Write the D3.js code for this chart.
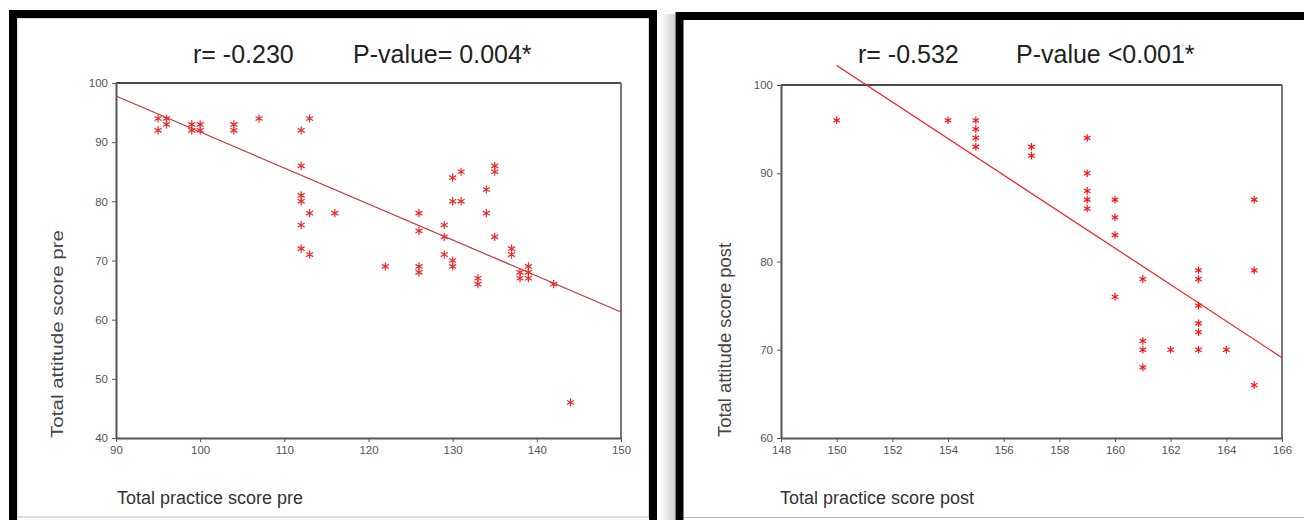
<!DOCTYPE html>
<html>
<head>
<meta charset="utf-8">
<script src="https://cdn.jsdelivr.net/npm/d3@7.9.0/dist/d3.min.js"></script>
<style>
  body { margin: 0; background: #fff; }
  svg { display: block; font-family: "Liberation Sans", Arial, sans-serif; }
</style>
</head>
<body>
<svg width="1304" height="520"></svg>
<script>
// pre scores (practice vs attitude)
const preX = [95, 95, 96, 96, 99, 99, 100, 100, 104, 104, 107, 112, 113, 112, 112, 112, 113, 116, 112, 112, 113,
  122, 126, 126, 126, 126, 129, 129, 129, 130, 131, 130, 131, 130, 130, 133, 133, 134, 134, 135, 135, 135,
  137, 137, 138, 138, 139, 139, 139, 142, 144];
const preY = [92, 94, 94, 93, 93, 92, 93, 92, 93, 92, 94, 92, 94, 86, 81, 80, 78, 78, 76, 72, 71,
  69, 78, 75, 69, 68, 76, 74, 71, 84, 85, 80, 80, 70, 69, 67, 66, 82, 78, 86, 85, 74,
  72, 71, 68, 67, 69, 68, 67, 66, 46];
const preFitX = [90, 150];
const preFitY = [97.8, 61.3];

// post scores
const postX = [150, 154, 155, 155, 155, 155, 157, 157, 159, 159, 159, 159, 159, 160, 160, 160, 160,
  161, 161, 161, 161, 162, 163, 163, 163, 163, 163, 163, 164, 165, 165, 165];
const postY = [96, 96, 96, 95, 94, 93, 93, 92, 94, 90, 88, 87, 86, 87, 85, 83, 76,
  78, 71, 70, 68, 70, 79, 78, 75, 73, 72, 70, 70, 87, 79, 66];
const postFitX = [150, 166];
const postFitY = [102.2, 69.1];

const preXTicks = [90, 100, 110, 120, 130, 140, 150];
const preYTicks = [40, 50, 60, 70, 80, 90, 100];
const postXTicks = [148, 150, 152, 154, 156, 158, 160, 162, 164, 166];
const postYTicks = [60, 70, 80, 90, 100];

const svg = d3.select('svg');

// panel frames
const defs = svg.append('defs');
const grad = defs.append('linearGradient').attr('id', 'shade');
grad.append('stop').attr('offset', '0%').attr('stop-color', '#fff');
grad.append('stop').attr('offset', '100%').attr('stop-color', '#cfcfcf');
svg.append('rect').attr('x', 660).attr('y', 14).attr('width', 15).attr('height', 506).attr('fill', 'url(#shade)');

svg.append('rect').attr('x', 17).attr('y', 18).attr('width', 632).attr('height', 499)
  .attr('fill', 'none').attr('stroke', '#bbb').attr('stroke-width', 1);
svg.append('rect').attr('x', 13).attr('y', 14).attr('width', 640).attr('height', 540)
  .attr('fill', 'none').attr('stroke', '#000').attr('stroke-width', 8);

svg.append('line').attr('x1', 684).attr('x2', 1304).attr('y1', 517.5).attr('y2', 517.5)
  .attr('stroke', '#bbb').attr('stroke-width', 1);
svg.append('rect').attr('x', 679.5).attr('y', 16).attr('width', 700).attr('height', 540)
  .attr('fill', 'none').attr('stroke', '#000').attr('stroke-width', 8);

function drawPlot(cfg) {
  let x = d3.scaleLinear().domain(cfg.xDomain).range([cfg.left, cfg.right]);
  let y = d3.scaleLinear().domain(cfg.yDomain).range([cfg.bottom, cfg.top]);
  let g = svg.append('g');

  // top and right frame lines
  g.append('line').attr('x1', cfg.left).attr('x2', cfg.right).attr('y1', cfg.top).attr('y2', cfg.top)
    .attr('stroke', '#111').attr('stroke-width', 1.5);
  g.append('line').attr('x1', cfg.right).attr('x2', cfg.right).attr('y1', cfg.top).attr('y2', cfg.bottom)
    .attr('stroke', '#777').attr('stroke-width', 2);

  let xAxis = g.append('g').attr('transform', `translate(0,${cfg.bottom})`)
    .call(d3.axisBottom(x).tickValues(cfg.xTicks).tickSize(4).tickSizeOuter(0).tickPadding(4));
  let yAxis = g.append('g').attr('transform', `translate(${cfg.left},0)`)
    .call(d3.axisLeft(y).tickValues(cfg.yTicks).tickSize(4).tickSizeOuter(0).tickPadding(4));
  [xAxis, yAxis].forEach(a => {
    a.select('.domain').attr('stroke', '#555').attr('stroke-width', 2);
    a.selectAll('.tick line').attr('stroke', '#555');
    a.selectAll('.tick text').attr('fill', '#555').style('font-size', '11.5px')
      .style('font-family', '"Liberation Sans", Arial, sans-serif');
  });

  // fitted line
  g.append('line')
    .attr('x1', x(cfg.fitX[0])).attr('y1', y(cfg.fitY[0]))
    .attr('x2', x(cfg.fitX[1])).attr('y2', y(cfg.fitY[1]))
    .attr('stroke', cfg.lineColor).attr('stroke-width', 1.2);

  let star = d3.symbol().type(d3.symbolAsterisk).size(cfg.markSize);
  g.selectAll('path.pt').data(cfg.xs).join('path')
    .attr('class', 'pt')
    .attr('d', star)
    .attr('transform', (d, i) => `translate(${x(d)},${y(cfg.ys[i])})`)
    .attr('fill', 'none')
    .attr('stroke', cfg.pointColor)
    .attr('stroke-width', 1.2);

  // titles
  g.append('text').attr('x', cfg.rx).attr('y', 63).attr('fill', '#222')
    .style('font-size', '25px').text(cfg.rText);
  g.append('text').attr('x', cfg.px).attr('y', 63).attr('fill', '#222')
    .style('font-size', '25px').text(cfg.pText);
  g.append('text').attr('x', cfg.xTitleX).attr('y', 504).attr('fill', '#333')
    .style('font-size', '18px').text(cfg.xTitle);
  g.append('text')
    .attr('transform', `translate(${cfg.yTitleX},${cfg.yTitleY}) rotate(-90)`)
    .attr('text-anchor', 'middle').attr('fill', '#444')
    .attr('textLength', cfg.yTitleLen).attr('lengthAdjust', 'spacingAndGlyphs')
    .style('font-size', cfg.yTitleSize).text(cfg.yTitle);
}

drawPlot({
  xDomain: [90, 150], yDomain: [40, 100],
  left: 116, right: 621, top: 83, bottom: 438,
  xTicks: preXTicks, yTicks: preYTicks,
  xs: preX, ys: preY, fitX: preFitX, fitY: preFitY,
  lineColor: '#c23a3a', pointColor: '#ee2a2a', markSize: 46,
  rText: 'r= -0.230', rx: 193, pText: 'P-value= 0.004*', px: 353,
  xTitle: 'Total practice score pre', xTitleX: 117,
  yTitle: 'Total attitude score pre', yTitleX: 63, yTitleY: 334, yTitleLen: 208, yTitleSize: '16px'
});

drawPlot({
  xDomain: [148, 166], yDomain: [60, 100],
  left: 781, right: 1282, top: 85, bottom: 438,
  xTicks: postXTicks, yTicks: postYTicks,
  xs: postX, ys: postY, fitX: postFitX, fitY: postFitY,
  lineColor: '#ff1a1a', pointColor: '#ff1010', markSize: 40,
  rText: 'r= -0.532', rx: 858, pText: 'P-value <0.001*', px: 1016,
  xTitle: 'Total practice score post', xTitleX: 780,
  yTitle: 'Total attitude score post', yTitleX: 731, yTitleY: 340, yTitleLen: 194, yTitleSize: '18px'
});
</script>
</body>
</html>
